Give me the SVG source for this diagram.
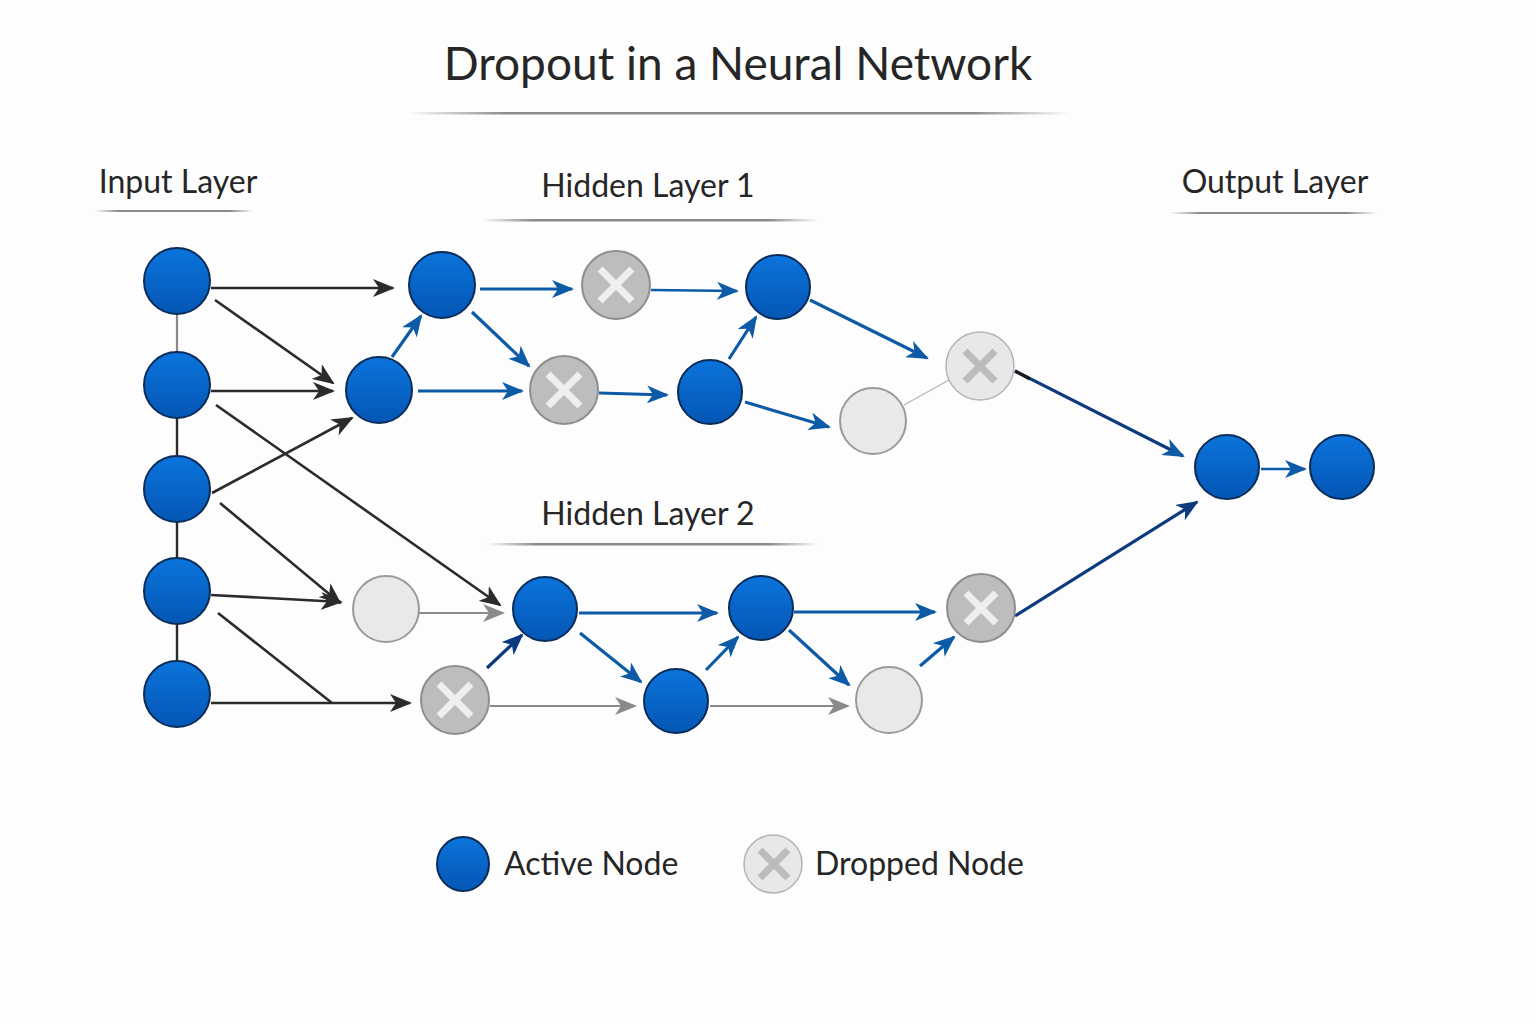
<svg xmlns="http://www.w3.org/2000/svg" width="1536" height="1024" viewBox="0 0 1536 1024">
<defs>
<linearGradient id="gAct" x1="0" y1="0" x2="0" y2="1">
<stop offset="0" stop-color="#0b74dc"/><stop offset="1" stop-color="#0456b4"/>
</linearGradient>
<linearGradient id="gRule" x1="0" y1="0" x2="1" y2="0">
<stop offset="0" stop-color="#8a8a8a" stop-opacity="0"/><stop offset="0.15" stop-color="#8a8a8a"/><stop offset="0.85" stop-color="#8a8a8a"/><stop offset="1" stop-color="#8a8a8a" stop-opacity="0"/>
</linearGradient>
<marker id="aK" viewBox="0 0 22 18" refX="20" refY="9" markerWidth="22" markerHeight="18" markerUnits="userSpaceOnUse" orient="auto"><path d="M0,0 L22,9 L0,18 L6,9 Z" fill="#2b2b2b"/></marker>
<marker id="aB" viewBox="0 0 22 18" refX="20" refY="9" markerWidth="22" markerHeight="18" markerUnits="userSpaceOnUse" orient="auto"><path d="M0,0 L22,9 L0,18 L6,9 Z" fill="#0d5aa7"/></marker>
<marker id="aN" viewBox="0 0 22 18" refX="20" refY="9" markerWidth="22" markerHeight="18" markerUnits="userSpaceOnUse" orient="auto"><path d="M0,0 L22,9 L0,18 L6,9 Z" fill="#0b3a7e"/></marker>
<marker id="aG" viewBox="0 0 22 18" refX="20" refY="9" markerWidth="22" markerHeight="18" markerUnits="userSpaceOnUse" orient="auto"><path d="M0,0 L22,9 L0,18 L6,9 Z" fill="#8a8a8a"/></marker>
</defs>
<style>
text{font-family:Lato,"Open Sans","Liberation Sans",sans-serif;fill:#262626}
.t{font-size:46px;text-anchor:middle}
.h{font-size:32px;text-anchor:middle}
.lg{font-size:32px}
.act{fill:url(#gAct);stroke:#0a2c57;stroke-width:2}
.dd{fill:#bdbdbd;stroke:#8e8e8e;stroke-width:2}
.dl{fill:#e8e8e8;stroke:#b4b4b4;stroke-width:1.5}
.em{fill:#e9e9e9;stroke:#9a9a9a;stroke-width:2}
.xw{stroke:#efefef;stroke-width:7;stroke-linecap:butt}
.xg{stroke:#bcbcbc;stroke-width:7;stroke-linecap:butt}
.k{stroke:#2b2b2b;stroke-width:2.6;fill:none}
.b{stroke:#0d5aa7;stroke-width:3.2;fill:none}
.bt{stroke:#0d5aa7;stroke-width:2.4;fill:none}
.n{stroke:#0b3a7e;stroke-width:3.2;fill:none}
.g{stroke:#8a8a8a;stroke-width:2.2;fill:none}
.r{fill:url(#gRule)}
</style>
<rect width="1536" height="1024" fill="#fdfdfd"/>

<g id="title">
<text class="t" x="738" y="80">Dropout in a Neural Network</text>
<rect class="r" x="408" y="112" width="662" height="2.5"/>
</g>
<g id="labels">
<text class="h" x="178" y="193">Input Layer</text>
<rect class="r" x="95" y="210" width="158" height="2"/>
<text class="h" x="648" y="197">Hidden Layer 1</text>
<rect class="r" x="482" y="219" width="336" height="2.5"/>
<text class="h" x="648" y="525">Hidden Layer 2</text>
<rect class="r" x="487" y="543" width="331" height="2.5"/>
<text class="h" x="1275" y="193">Output Layer</text>
<rect class="r" x="1170" y="212" width="207" height="2"/>
</g>

<g id="connectors">
<line x1="177" y1="314" x2="177" y2="352" stroke="#888" stroke-width="2.2"/>
<line x1="177" y1="418" x2="177" y2="456" stroke="#2b2b2b" stroke-width="2.4"/>
<line x1="177" y1="522" x2="177" y2="558" stroke="#2b2b2b" stroke-width="2.4"/>
<line x1="177" y1="624" x2="177" y2="661" stroke="#2b2b2b" stroke-width="2.4"/>
<line class="k" x1="211" y1="288" x2="393" y2="288" marker-end="url(#aK)"/>
<line class="k" x1="215" y1="300" x2="333" y2="383" marker-end="url(#aK)"/>
<line class="k" x1="211" y1="391" x2="333" y2="391" marker-end="url(#aK)"/>
<line class="k" x1="216" y1="405" x2="500" y2="605" marker-end="url(#aK)"/>
<line class="k" x1="212" y1="493" x2="352" y2="418" marker-end="url(#aK)"/>
<line class="k" x1="220" y1="503" x2="340" y2="603" marker-end="url(#aK)"/>
<line class="k" x1="211" y1="595" x2="341" y2="602" marker-end="url(#aK)"/>
<line class="k" x1="218" y1="613" x2="332" y2="703"/>
<line class="k" x1="211" y1="703" x2="410" y2="703" marker-end="url(#aK)"/>

<line class="b" x1="392" y1="357" x2="421" y2="316" marker-end="url(#aB)"/>
<line class="b" x1="480" y1="289" x2="572" y2="289" marker-end="url(#aB)"/>
<line class="b" x1="472" y1="312" x2="529" y2="366" marker-end="url(#aB)"/>
<line class="b" x1="418" y1="391" x2="522" y2="391" marker-end="url(#aB)"/>
<line class="bt" x1="651" y1="290" x2="737" y2="291" marker-end="url(#aB)"/>
<line class="b" x1="599" y1="393" x2="667" y2="395" marker-end="url(#aB)"/>
<line class="b" x1="729" y1="359" x2="756" y2="317" marker-end="url(#aB)"/>
<line class="b" x1="810" y1="300" x2="927" y2="358" marker-end="url(#aB)"/>
<line class="b" x1="745" y1="402" x2="829" y2="427" marker-end="url(#aB)"/>
<line x1="904" y1="405" x2="949" y2="380" stroke="#b5b5b5" stroke-width="1.3"/>
<line class="n" x1="1015" y1="371" x2="1183" y2="456" marker-end="url(#aB)"/>
<line x1="1015" y1="371" x2="1030" y2="379" stroke="#1a1a1a" stroke-width="3.2"/>
<line class="n" x1="1015" y1="616" x2="1197" y2="502" marker-end="url(#aN)"/>
<line class="bt" x1="1261" y1="469" x2="1305" y2="469" marker-end="url(#aB)"/>

<line class="g" x1="419" y1="613" x2="503" y2="613" marker-end="url(#aG)"/>
<line class="n" x1="487" y1="668" x2="522" y2="635" marker-end="url(#aN)"/>
<line class="b" x1="579" y1="613" x2="717" y2="613" marker-end="url(#aB)"/>
<line class="b" x1="580" y1="633" x2="641" y2="682" marker-end="url(#aB)"/>
<line class="b" x1="706" y1="670" x2="738" y2="637" marker-end="url(#aB)"/>
<line class="b" x1="794" y1="612" x2="935" y2="612" marker-end="url(#aB)"/>
<line class="b" x1="789" y1="630" x2="849" y2="685" marker-end="url(#aB)"/>
<line class="b" x1="920" y1="666" x2="954" y2="637" marker-end="url(#aB)"/>
<line class="g" x1="490" y1="706" x2="635" y2="706" marker-end="url(#aG)"/>
<line class="g" x1="710" y1="706" x2="848" y2="706" marker-end="url(#aG)"/>
</g>

<g id="in1"><circle class="act" cx="177" cy="281" r="33"/></g>
<g id="in2"><circle class="act" cx="177" cy="385" r="33"/></g>
<g id="in3"><circle class="act" cx="177" cy="489" r="33"/></g>
<g id="in4"><circle class="act" cx="177" cy="591" r="33"/></g>
<g id="in5"><circle class="act" cx="177" cy="694" r="33"/></g>

<g id="h1a"><circle class="act" cx="442" cy="285" r="33"/></g>
<g id="h1b"><circle class="act" cx="379" cy="390" r="33"/></g>
<g id="h1c"><circle class="dd" cx="616" cy="285" r="34"/><path class="xw" d="M600,269 L632,301 M632,269 L600,301"/></g>
<g id="h1d"><circle class="dd" cx="564" cy="390" r="34"/><path class="xw" d="M548,374 L580,406 M580,374 L548,406"/></g>
<g id="h1e"><circle class="act" cx="778" cy="287" r="32"/></g>
<g id="h1f"><circle class="act" cx="710" cy="392" r="32"/></g>
<g id="h1g"><circle class="dl" cx="980" cy="366" r="34"/><path class="xg" d="M965,351 L995,381 M995,351 L965,381"/></g>
<g id="h1h"><circle class="em" cx="873" cy="421" r="33"/></g>

<g id="h2a"><circle class="em" cx="386" cy="609" r="33"/></g>
<g id="h2b"><circle class="act" cx="545" cy="609" r="32"/></g>
<g id="h2c"><circle class="dd" cx="455" cy="700" r="34"/><path class="xw" d="M439,684 L471,716 M471,684 L439,716"/></g>
<g id="h2d"><circle class="act" cx="761" cy="608" r="32"/></g>
<g id="h2e"><circle class="act" cx="676" cy="701" r="32"/></g>
<g id="h2f"><circle class="dd" cx="981" cy="608" r="34"/><path class="xw" d="M966,593 L996,623 M996,593 L966,623"/></g>
<g id="h2g"><circle class="em" cx="889" cy="700" r="33"/></g>

<g id="out1"><circle class="act" cx="1227" cy="467" r="32"/></g>
<g id="out2"><circle class="act" cx="1342" cy="467" r="32"/></g>

<g id="legend">
<g id="legActive"><ellipse class="act" cx="463" cy="864" rx="26" ry="27" stroke-width="1.5"/>
<text class="lg" x="504" y="875">Active Node</text></g>
<g id="legDropped"><ellipse class="dl" cx="773" cy="864" rx="29" ry="29"/><path class="xg" d="M760,850 L788,878 M788,850 L760,878"/>
<text class="lg" x="815" y="875">Dropped Node</text></g>
</g>
</svg>
